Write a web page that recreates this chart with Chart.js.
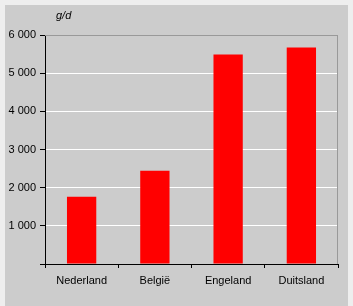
<!DOCTYPE html>
<html>
<head>
<meta charset="utf-8">
<script src="https://cdn.jsdelivr.net/npm/chart.js@4"></script>
<style>
    html, body { margin: 0; padding: 0; background: #eeeeee; }
    #wrap { position: absolute; left: 5px; top: 5px; width: 343px; height: 301px; background: #cccccc; }
</style>
</head>
<body>
<div id="wrap"><canvas id="chart" width="343" height="301"></canvas></div>
<script>
// landen en waarden (g/d)
var categories = ['Nederland', 'België', 'Engeland', 'Duitsland'];
var values = [1760, 2440, 5490, 5670];
var unitLabel = 'g/d';

function formatThousands(v) {
    if (v === 0) return '';
    return String(v).replace(/\B(?=(\d{3})+(?!\d))/g, ' ');
}

// rand boven en rechts + eenheid linksboven
var framePlugin = {
    id: 'frame',
    afterDraw: function(chart) {
        var ctx = chart.ctx;
        var a = chart.chartArea;
        ctx.save();
        ctx.strokeStyle = '#999999';
        ctx.lineWidth = 1;
        ctx.beginPath();
        ctx.moveTo(a.left, a.top + 0.5);
        ctx.lineTo(a.right - 0.5, a.top + 0.5);
        ctx.lineTo(a.right - 0.5, a.bottom);
        ctx.stroke();
        ctx.fillStyle = '#000000';
        ctx.font = 'italic 11px "Liberation Sans", Arial, sans-serif';
        ctx.textBaseline = 'middle';
        ctx.fillText(unitLabel, a.left + 11, 11);
        ctx.restore();
    }
};

var ctx = document.getElementById('chart').getContext('2d');
var chart = new Chart(ctx, {
    type: 'bar',
    data: {
        labels: categories,
        datasets: [{
            data: values,
            backgroundColor: '#ff0000',
            borderWidth: 0,
            barPercentage: 0.4,
            categoryPercentage: 1.0
        }]
    },
    options: {
        responsive: false,
        animation: false,
        layout: { padding: { top: 30, right: 10, left: 0, bottom: 0 } },
        plugins: {
            legend: { display: false },
            tooltip: { enabled: false }
        },
        scales: {
            x: {
                offset: true,
                grid: {
                    offset: true,
                    drawOnChartArea: false,
                    drawTicks: true,
                    tickLength: 4,
                    color: '#000000'
                },
                border: { color: '#000000', width: 1 },
                ticks: {
                    color: '#000000',
                    padding: 6,
                    font: { family: '"Liberation Sans", Arial, sans-serif', size: 11 }
                },
                afterFit: function(scale) { scale.height = 42; }
            },
            y: {
                min: 0,
                max: 6000,
                grid: {
                    color: function(c) { return c.tick && c.tick.value === 6000 ? '#999999' : '#ffffff'; },
                    tickColor: '#000000',
                    tickLength: 5,
                    drawTicks: true
                },
                border: { color: '#000000', width: 1 },
                ticks: {
                    stepSize: 1000,
                    color: '#000000',
                    padding: 4,
                    font: { family: '"Liberation Sans", Arial, sans-serif', size: 11 },
                    callback: function(v) { return formatThousands(v); }
                },
                afterFit: function(scale) { scale.width = 40; }
            }
        }
    },
    plugins: [framePlugin]
});
</script>
</body>
</html>
